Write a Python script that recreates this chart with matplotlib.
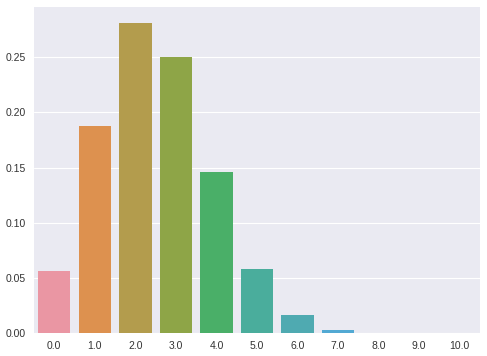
import matplotlib
matplotlib.use("Agg")
import matplotlib.pyplot as plt
import seaborn as sns
import numpy as np

categories = ["0.0", "1.0", "2.0", "3.0", "4.0", "5.0", "6.0", "7.0", "8.0", "9.0", "10.0"]
values = [0.0563, 0.1877, 0.2816, 0.2503, 0.1460, 0.0584, 0.0162, 0.0031, 0.0004, 0.00003, 0.000001]

bar_colors = ["#EA96A3", "#DD914F", "#B39C4D", "#8EA547", "#4AAF68", "#4AAD9C",
              "#4FAAB1", "#52A9D3", "#A0A8EC", "#C99CE6", "#E894D0"]

sns.set_style("darkgrid")
plt.rcParams['font.family'] = ['Liberation Sans', 'DejaVu Sans']

fig = plt.figure(figsize=(4.87, 3.56), dpi=100)
ax = fig.add_axes([34/487, 23/356, 446/487, 326/356])
x = np.arange(len(categories))
ax.bar(x, values, width=0.8, color=bar_colors, linewidth=0)
ax.set_xticks(x)
ax.set_xticklabels(categories)
ax.set_xlim(-0.5, len(categories) - 0.5)
ax.set_ylim(0, max(values) * 1.05)
ax.set_yticks([0, 0.05, 0.10, 0.15, 0.20, 0.25])
ax.set_yticklabels(["0.00", "0.05", "0.10", "0.15", "0.20", "0.25"])
ax.tick_params(axis='both', labelsize=7.5, colors='#333333', length=0, pad=6)
ax.grid(axis='x', visible=False)
for s in ax.spines.values():
    s.set_visible(False)
fig.savefig("out.png", dpi=100)
